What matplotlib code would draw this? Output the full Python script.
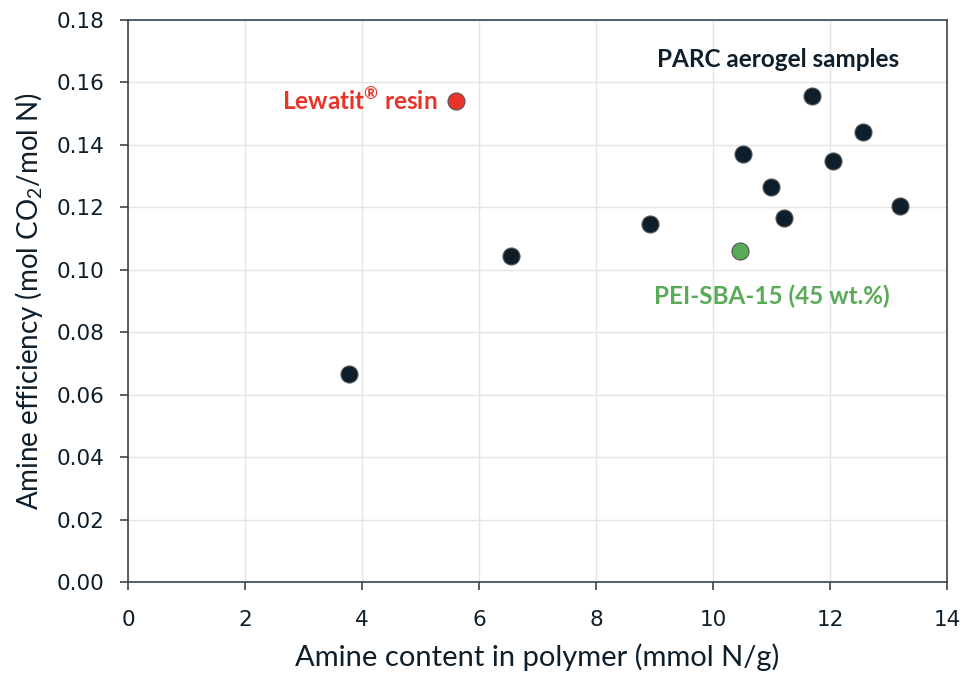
import matplotlib.pyplot as plt

plt.rcParams['mathtext.fontset'] = 'custom'
plt.rcParams['mathtext.rm'] = 'Lato'
plt.rcParams['mathtext.bf'] = 'Lato:bold'

# amine loading (mmol N/g) vs amine efficiency (mol CO2 / mol N)
parc_x = [3.78, 6.55, 8.93, 10.52, 11.0, 11.22, 11.7, 12.05, 12.57, 13.2]
parc_y = [0.0666, 0.1044, 0.1147, 0.1371, 0.1265, 0.1166, 0.1557, 0.1349, 0.1441, 0.1204]
lewatit_x = [5.6]
lewatit_y = [0.1541]
pei_x = [10.47]
pei_y = [0.106]

navy = '#0e1e2b'
red = '#e8352a'
green = '#5aab58'

fig = plt.figure(figsize=(9.65, 6.78), dpi=100)
ax = fig.add_axes([0.1326, 0.1416, 0.8487, 0.8289])

ax.scatter(parc_x, parc_y, s=150, color=navy, edgecolors='#555555', linewidths=0.8, zorder=3)
ax.scatter(lewatit_x, lewatit_y, s=150, color=red, edgecolors='#555555', linewidths=0.8, zorder=3)
ax.scatter(pei_x, pei_y, s=150, color=green, edgecolors='#555555', linewidths=0.8, zorder=3)

ax.text(5.3, lewatit_y[0], r'Lewatit$^{\mathbf{®}}$ resin', color=red, fontsize=17.5, fontweight='bold',
        family='Lato', ha='right', va='center')
ax.text(9.05, 0.1675, 'PARC aerogel samples', color=navy, fontsize=17.5, fontweight='bold',
        family='Lato', ha='left', va='center')
ax.text(9.0, 0.0915, 'PEI-SBA-15 (45 wt.%)', color=green, fontsize=17.5, fontweight='bold',
        family='Lato', ha='left', va='center')

ax.set_xlim(0, 14)
ax.set_ylim(0, 0.18)
ax.set_xticks(range(0, 15, 2))
ax.set_yticks([i * 0.02 for i in range(10)])
ax.set_yticklabels(['%.2f' % (i * 0.02) for i in range(10)])
ax.grid(True, color='#e4e4e4', linewidth=1)
ax.set_axisbelow(True)

for s in ax.spines.values():
    s.set_color('#3a4650')
    s.set_linewidth(1.2)
ax.tick_params(direction='out', length=6, width=1.2, color='#3a4650', labelsize=15.5,
               labelcolor=navy)
ax.tick_params(axis='x', pad=14)
ax.tick_params(axis='y', pad=11)

ax.set_xlabel('Amine content in polymer (mmol N/g)', fontsize=21, color=navy, family='Lato', labelpad=10)
ax.set_ylabel('Amine efficiency (mol CO$_2$/mol N)', fontsize=20, color=navy, family='Lato', labelpad=8)

fig.savefig('out.png', dpi=100)
